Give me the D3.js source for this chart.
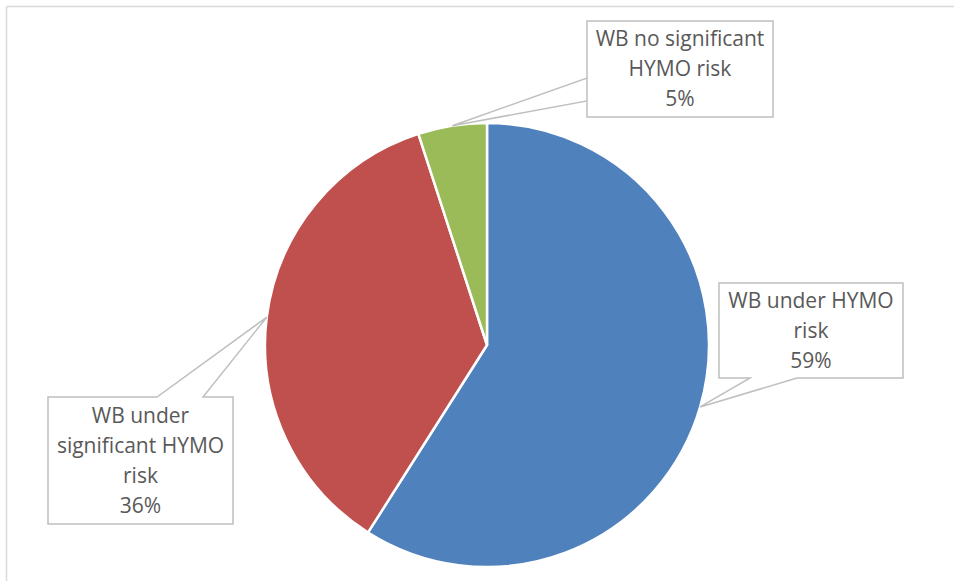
<!DOCTYPE html>
<html>
<head>
<meta charset="utf-8">
<script src="https://cdn.jsdelivr.net/npm/d3@7"></script>
<style>
  html, body { margin: 0; padding: 0; background: #fff; }
  svg { display: block; }
</style>
</head>
<body>
<svg id="chart" width="954" height="581"></svg>
<script>
// ---- data ----
const categories = ["WB under HYMO risk", "WB under significant HYMO risk", "WB no significant HYMO risk"];
const values = [59, 36, 5];
const labelLines = [
  ["WB under HYMO", "risk"],
  ["WB under", "significant HYMO", "risk"],
  ["WB no significant", "HYMO risk"]
];
const colors = ["#4F81BD", "#C0504D", "#9BBB59"];

// ---- layout ----
const W = 954, H = 581;
const cx = 487, cy = 345, R = 222;
// callout boxes relative to pie center: [x0, y0, x1, y1], pointer side & attach coords
const callouts = [
  { box: [232, -62, 416, 33], side: "bottom", a: [263, 310] },
  { box: [-439, 52, -254, 179], side: "top", a: [-330, -284] },
  { box: [100, -324, 286, -228], side: "left", a: [-244, -267] }
];

const svg = d3.select("#chart");

// chart area frame (top and left edges visible)
svg.append("line").attr("x1", 6.5).attr("y1", 6.5).attr("x2", W).attr("y2", 6.5)
  .attr("stroke", "#d9d9d9").attr("stroke-width", 1.5);
svg.append("line").attr("x1", 6.5).attr("y1", 6.5).attr("x2", 6.5).attr("y2", H)
  .attr("stroke", "#d9d9d9").attr("stroke-width", 1.5);

const pie = d3.pie().sort(null).value(d => d)(values);
const arc = d3.arc().innerRadius(0).outerRadius(R);

const g = svg.append("g").attr("transform", `translate(${cx},${cy})`);
g.selectAll("path.slice").data(pie).join("path")
  .attr("class", "slice")
  .attr("d", arc)
  .attr("fill", (d, i) => colors[i])
  .attr("stroke", "#fff")
  .attr("stroke-width", 2.5)
  .attr("stroke-linejoin", "round");

const total = d3.sum(values);
const fmt = v => Math.round(v / total * 100) + "%";

pie.forEach((d, i) => {
  const mid = (d.startAngle + d.endAngle) / 2;
  const tip = [R * Math.sin(mid), -R * Math.cos(mid)];
  const c = callouts[i];
  const [x0, y0, x1, y1] = c.box;
  const p = d3.path();
  if (c.side === "bottom") {
    p.moveTo(x0, y0); p.lineTo(x1, y0); p.lineTo(x1, y1);
    p.lineTo(c.a[1], y1); p.lineTo(tip[0], tip[1]); p.lineTo(c.a[0], y1);
    p.lineTo(x0, y1); p.closePath();
  } else if (c.side === "top") {
    p.moveTo(x0, y0); p.lineTo(c.a[0], y0); p.lineTo(tip[0], tip[1]);
    p.lineTo(c.a[1], y0); p.lineTo(x1, y0); p.lineTo(x1, y1);
    p.lineTo(x0, y1); p.closePath();
  } else {
    p.moveTo(x0, y0); p.lineTo(x1, y0); p.lineTo(x1, y1); p.lineTo(x0, y1);
    p.lineTo(x0, c.a[1]); p.lineTo(tip[0], tip[1]); p.lineTo(x0, c.a[0]);
    p.closePath();
  }
  g.append("path").attr("d", p.toString())
    .attr("fill", "#fff").attr("stroke", "#bfbfbf").attr("stroke-width", 1.5)
    .attr("stroke-linejoin", "miter");

  const lines = labelLines[i].concat([fmt(values[i])]);
  const lh = 30;
  const midY = (y0 + y1) / 2;
  const midX = (x0 + x1) / 2;
  const t = g.append("text")
    .attr("text-anchor", "middle")
    .attr("font-family", "'Open Sans', 'DejaVu Sans', sans-serif")
    .attr("font-size", 21)
    .attr("fill", "#595959");
  lines.forEach((ln, k) => {
    t.append("tspan")
      .attr("x", midX)
      .attr("y", midY + (k - (lines.length - 1) / 2) * lh)
      .attr("dy", "0.35em")
      .text(ln);
  });
});
</script>
</body>
</html>
